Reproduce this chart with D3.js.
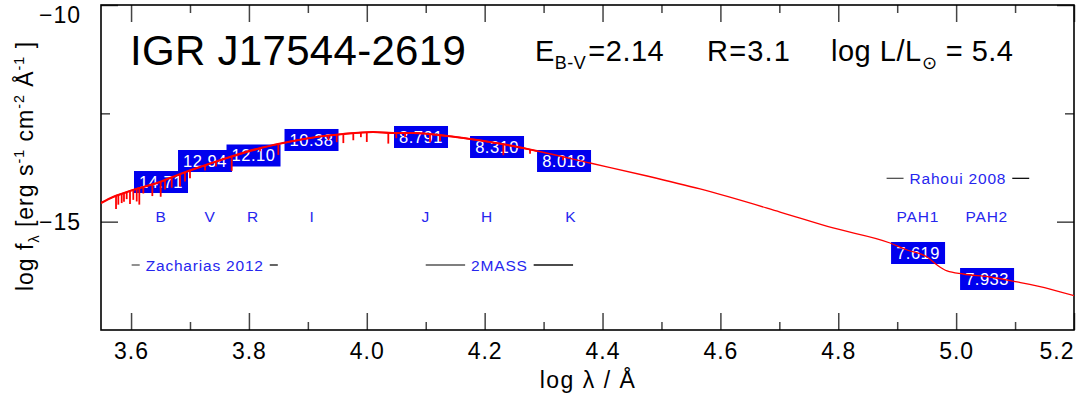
<!DOCTYPE html>
<meta charset="utf-8">
<style>
body{margin:0;background:#fff;}
svg text{font-family:"Liberation Sans",Arial,Helvetica,sans-serif;}
</style>
<script src="https://d3js.org/d3.v7.min.js"></script>
<svg width="1084" height="401"></svg>
<script>
const svg = d3.select('svg');

// reddened model SED, log lambda vs log f_lambda
const modelLogLam = [3.549,3.5694,3.6033,3.644,3.6881,3.717,3.7679,3.8137,3.8578,3.9037,3.9597,4.0106,4.0445,4.0784,4.1361,4.1752,4.2481,4.2889,4.3788,4.4757,4.5655,4.7012,4.7912,4.8879,4.9168,4.9507,4.9677,4.9846,5.0118,5.0576,5.1034,5.1594,5.2018];
const modelLogF = [-14.569,-14.431,-14.269,-14.108,-13.877,-13.738,-13.508,-13.323,-13.185,-13.069,-12.977,-12.931,-12.954,-12.954,-13.023,-13.092,-13.254,-13.369,-13.646,-13.946,-14.246,-14.777,-15.146,-15.492,-15.654,-15.815,-16.0,-16.138,-16.208,-16.277,-16.392,-16.554,-16.715];

// absorption lines in the model (position, depth in dex)
const absLogLam = [3.5745,3.5784,3.5841,3.588,3.5926,3.5982,3.6038,3.6096,3.614,3.6208,3.6361,3.6503,3.6576,3.669,3.6831,3.6915,3.70,3.7255,3.7441,3.7708,3.8188,3.8499,3.935,3.949,3.9602,3.9771,3.99,4.0,4.0365,4.05,4.065,4.1073,4.1243,4.2317,4.277,4.333];
const absDepth = [0.30,0.22,0.21,0.20,0.16,0.30,0.23,0.29,0.38,0.15,0.27,0.35,0.22,0.24,0.28,0.21,0.18,0.12,0.11,0.33,0.07,0.25,0.10,0.17,0.21,0.16,0.10,0.22,0.25,0.12,0.10,0.18,0.13,0.25,0.10,0.08];

// photometry
const photLogLam = [3.6508,3.7255,3.8078,3.9062,4.092,4.221,4.3347,4.9354,5.0525];
const photLogF = [-14.085,-13.60,-13.473,-13.115,-13.046,-13.277,-13.60,-15.723,-16.323];
const photMag = ['14.71','12.94','12.10','10.38','8.791','8.310','8.018','7.619','7.933'];

const bandNames = ['B','V','R','I','J','H','K','PAH1','PAH2'];
const bandLogLam = [3.651,3.734,3.807,3.907,4.100,4.204,4.346,4.935,5.052];
const bandLogF = -15.0;

const refNames = ['Zacharias 2012','2MASS','Rahoui 2008'];
const refFrom = [3.601,4.100,4.882];
const refTo = [3.849,4.350,5.124];
const refLogF = [-16.0,-16.0,-14.0];

const xMajor = [3.6,3.8,4.0,4.2,4.4,4.6,4.8,5.0,5.2];
const xMinor = [3.7,3.9,4.1,4.3,4.5,4.7,4.9,5.1];
const yMajor = [-10,-15];
const yMinor = [-12.5];

const pLeft = 101, pRight = 1074, pTop = 5, pBottom = 330;
const x = d3.scaleLinear().domain([3.549, 5.2]).range([pLeft, pRight]);
const y = d3.scaleLinear().domain([-17.5, -10]).range([pBottom, pTop]);

const tickColor = '#444';

svg.append('clipPath').attr('id','plot')
  .append('rect').attr('x',pLeft).attr('y',pTop).attr('width',pRight-pLeft).attr('height',pBottom-pTop);

// axes
const styleAxis = g => {
  g.select('.domain').remove();
  g.selectAll('line').attr('stroke',tickColor).attr('stroke-width',1.5);
  g.selectAll('text').attr('fill','#000').style('font-size','23px').style('letter-spacing','1px')
    .style('font-family','"Liberation Sans",Arial,sans-serif');
};

const xAx = svg.append('g').attr('transform',`translate(0,${pBottom})`)
  .call(d3.axisBottom(x).tickValues(xMajor).tickSize(-17).tickPadding(13).tickFormat(d3.format('.1f')))
  .call(styleAxis);
xAx.selectAll('.tick').filter(d => d === 5.2).select('text').attr('text-anchor','end').attr('x', 0);
svg.append('g').attr('transform',`translate(0,${pBottom})`)
  .call(d3.axisBottom(x).tickValues(xMinor).tickSize(-8).tickFormat(''))
  .call(styleAxis);
svg.append('g').attr('transform',`translate(0,${pTop})`)
  .call(d3.axisTop(x).tickValues(xMajor).tickSize(-17).tickFormat(''))
  .call(styleAxis);
svg.append('g').attr('transform',`translate(0,${pTop})`)
  .call(d3.axisTop(x).tickValues(xMinor).tickSize(-8).tickFormat(''))
  .call(styleAxis);

const yAx = svg.append('g').attr('transform',`translate(${pLeft},0)`)
  .call(d3.axisLeft(y).tickValues(yMajor).tickSize(-17).tickPadding(20).tickFormat(d3.format('d')))
  .call(styleAxis);
yAx.selectAll('.tick').filter(d => d === -10).select('text').attr('y', 10);
svg.append('g').attr('transform',`translate(${pLeft},0)`)
  .call(d3.axisLeft(y).tickValues(yMinor).tickSize(-9).tickFormat(''))
  .call(styleAxis);
svg.append('g').attr('transform',`translate(${pRight},0)`)
  .call(d3.axisRight(y).tickValues(yMajor).tickSize(-17).tickFormat(''))
  .call(styleAxis);
svg.append('g').attr('transform',`translate(${pRight},0)`)
  .call(d3.axisRight(y).tickValues(yMinor).tickSize(-9).tickFormat(''))
  .call(styleAxis);

// frame
svg.append('rect').attr('x',pLeft).attr('y',pTop).attr('width',pRight-pLeft).attr('height',pBottom-pTop)
  .attr('fill','none').attr('stroke','#000').attr('stroke-width',1.6);

// rich text helper
function rich(g, parts, size, spacing) {
  const t = g.append('text').style('font-size', size + 'px').style('letter-spacing', spacing + 'px');
  let shift = 0;
  parts.forEach(p => {
    const target = p.sub ? size * 0.28 : p.sup ? -size * 0.4 : 0;
    t.append('tspan').text(p.t)
      .attr('dy', target - shift)
      .attr('dx', p.dx || 0)
      .style('font-size', (p.sub || p.sup ? size * 0.62 : size) + 'px');
    shift = target;
  });
  return t;
}

// axis titles
rich(svg.append('g').attr('transform','translate(33,166) rotate(-90)'),
  [{t:'log f'},{t:'λ',sub:true},{t:'  [erg s'},{t:'-1',sup:true},{t:'  cm'},{t:'-2',sup:true},{t:'  Å'},{t:'-1',sup:true},{t:' ]'}], 23, 1)
  .attr('text-anchor','middle');
svg.append('text').attr('x',588).attr('y',388).attr('text-anchor','middle')
  .style('font-size','23px').style('letter-spacing','1.5px').text('log λ / Å');

// header texts
svg.append('text').attr('x',130).attr('y',65).style('font-size','42px').style('letter-spacing','0.3px')
  .text('IGR J17544-2619');
rich(svg.append('g').attr('transform','translate(535,61)'), [{t:'E'},{t:'B-V',sub:true},{t:'=2.14',dx:2}], 29, 0.5);
rich(svg.append('g').attr('transform','translate(707,61)'), [{t:'R=3.1'}], 29, 1.2);
rich(svg.append('g').attr('transform','translate(831,61)'), [{t:'log L/L'},{t:'⊙',sub:true},{t:' = 5.4'}], 29, 0.5);

// band names
svg.append('g').selectAll('text').data(bandNames).join('text')
  .attr('x',(d,i) => x(bandLogLam[i])).attr('y', y(bandLogF))
  .attr('text-anchor','middle').attr('fill','#2626ee').style('font-size','15.5px')
  .style('letter-spacing','0.8px')
  .text(d => d);

// references with dashes
refNames.forEach((name, i) => {
  const yy = y(refLogF[i]);
  const cx = (x(refFrom[i]) + x(refTo[i])) / 2;
  const t = svg.append('text').attr('x',cx).attr('y',yy + 5.5).attr('text-anchor','middle')
    .attr('fill','#2626ee').style('font-size','15.5px').style('letter-spacing','0.8px').text(name);
  const half = t.node().getComputedTextLength() / 2 + 6;
  svg.append('line').attr('x1',x(refFrom[i])).attr('x2',cx - half).attr('y1',yy).attr('y2',yy)
    .attr('stroke','#555').attr('stroke-width',1.3);
  svg.append('line').attr('x1',cx + half).attr('x2',x(refTo[i])).attr('y1',yy).attr('y2',yy)
    .attr('stroke','#111').attr('stroke-width',1.3);
});

// photometry boxes
const boxW = 54, boxH = 22;
const pg = svg.append('g');
pg.selectAll('rect').data(photMag).join('rect')
  .attr('x',(d,i) => x(photLogLam[i]) - boxW/2).attr('y',(d,i) => y(photLogF[i]) - boxH/2)
  .attr('width',boxW).attr('height',boxH).attr('fill','#0000ee');
pg.selectAll('text').data(photMag).join('text')
  .attr('x',(d,i) => x(photLogLam[i])).attr('y',(d,i) => y(photLogF[i]) + 6)
  .attr('text-anchor','middle').attr('fill','#fff').style('font-size','16.5px')
  .style('letter-spacing','0.5px')
  .text(d => d);

// model
const model = modelLogLam.map((l,i) => [l, modelLogF[i]]);
const cont = l => {
  const i = Math.max(1, d3.bisectLeft(modelLogLam, l));
  const t = (l - modelLogLam[i-1]) / (modelLogLam[i] - modelLogLam[i-1]);
  return modelLogF[i-1] + t * (modelLogF[i] - modelLogF[i-1]);
};
const line = d3.line().x(d => x(d[0])).y(d => y(d[1])).curve(d3.curveMonotoneX);
const mg = svg.append('g').attr('clip-path','url(#plot)');
mg.append('path').datum(model).attr('d',line)
  .attr('fill','none').attr('stroke','#ff0000').attr('stroke-width',1.3);
mg.append('path').datum(model.filter(d => d[0] <= 4.36)).attr('d',line)
  .attr('fill','none').attr('stroke','#ff0000').attr('stroke-width',2.2);
mg.selectAll('line.abs').data(absLogLam).join('line').attr('class','abs')
  .attr('x1',d => x(d)).attr('x2',d => x(d))
  .attr('y1',d => y(cont(d))).attr('y2',(d,i) => y(cont(d) - absDepth[i]))
  .attr('stroke','#ff0000').attr('stroke-width',1.8);
</script>
